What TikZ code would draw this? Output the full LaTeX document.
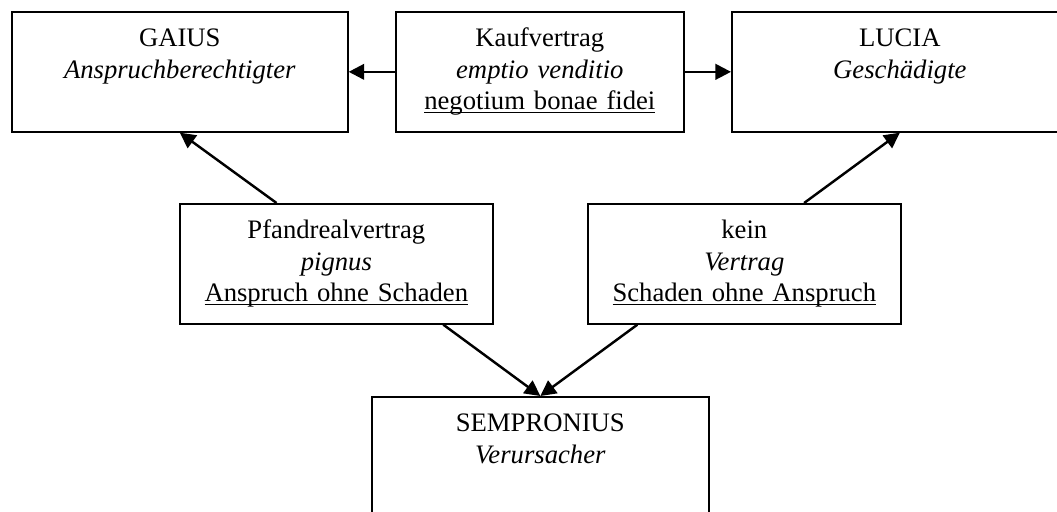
\documentclass[tikz,border=0pt]{standalone}
\usepackage{fontspec}
\setmainfont{Liberation Serif}
\usetikzlibrary{arrows.meta,calc}

\newcommand{\strich}[1]{\setbox0\hbox{#1}\rlap{\vrule height -1.3pt depth 1.9pt width \wd0}\box0}

\tikzset{
  kasten/.style={draw, line width=0.75pt, anchor=north west, align=center,
                 inner xsep=0pt, inner ysep=6pt, font=\fontsize{12}{14}\selectfont},
  pfeil/.style={-{Triangle[length=7pt,width=7pt]}, line width=1.1pt}
}

\begin{document}
\begin{tikzpicture}[x=0.45pt,y=-0.45pt]
\path[use as bounding box, fill=white] (0,0) rectangle (1057,511);
\clip (0,0) rectangle (1057,511);

% obere Reihe
\node[kasten, text width=151.2pt] (gaius) at (11,11)
  {\strut GAIUS\\ \strut\textit{Anspruchberechtigter}\\ \strut};
\node[kasten, text width=129.6pt] (kauf) at (395,11)
  {\strut Kaufvertrag\\ \strut\textit{emptio venditio}\\ \strut\strich{negotium bonae fidei}};
\node[kasten, text width=151.2pt] (lucia) at (731,11)
  {\strut LUCIA\\ \strut\textit{Geschädigte}\\ \strut};

% mittlere Reihe
\node[kasten, text width=140.85pt] (pfand) at (179,203)
  {\strut Pfandrealvertrag\\ \strut\textit{pignus}\\ \strut\strich{Anspruch ohne Schaden}};
\node[kasten, text width=140.85pt] (kein) at (587,203)
  {\strut kein\\ \strut\textit{Vertrag}\\ \strut\strich{Schaden ohne Anspruch}};

% unten
\node[kasten, text width=151.65pt] (sempronius) at (371,396)
  {\strut SEMPRONIUS\\ \strut\textit{Verursacher}\\ \strut};

\draw[pfeil] (kauf.west) -- (gaius.east);
\draw[pfeil] (kauf.east) -- (lucia.west);
\draw[pfeil] ($(pfand.north west)!0.31!(pfand.north east)$) -- (gaius.south);
\draw[pfeil] ($(kein.north west)!0.69!(kein.north east)$) -- (lucia.south);
\draw[pfeil] ($(pfand.south west)!0.84!(pfand.south east)$) -- (sempronius.north);
\draw[pfeil] ($(kein.south west)!0.16!(kein.south east)$) -- (sempronius.north);
\end{tikzpicture}
\end{document}
